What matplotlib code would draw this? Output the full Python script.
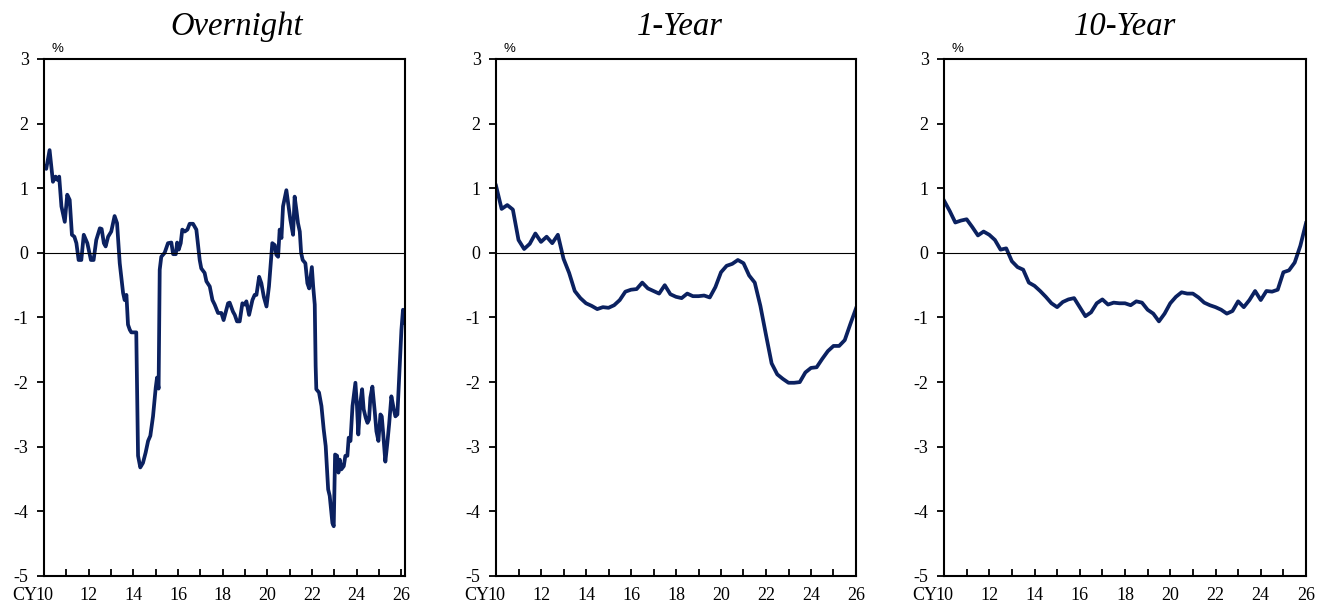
import matplotlib
matplotlib.use("Agg")
import matplotlib.pyplot as plt
from matplotlib.ticker import MultipleLocator

plt.rcParams['font.family'] = ['Liberation Serif', 'DejaVu Serif']
plt.rcParams['axes.unicode_minus'] = False

# Overnight real rate (monthly, irregular sample points)
on_year = [10.0, 10.1, 10.25, 10.4, 10.52, 10.6, 10.68, 10.78, 10.93, 11.04, 11.15,
           11.25, 11.36, 11.45, 11.55, 11.67, 11.78, 11.94, 12.02, 12.1, 12.22, 12.34,
           12.5, 12.58, 12.68, 12.76, 12.87, 13.01, 13.16, 13.27, 13.39, 13.54, 13.61,
           13.69, 13.76, 13.84, 13.91, 14.13, 14.21, 14.31, 14.43, 14.55, 14.66, 14.76,
           14.88, 15.0, 15.06, 15.13, 15.18, 15.25, 15.4, 15.55, 15.7, 15.78, 15.9,
           15.96, 16.03, 16.12, 16.19, 16.3, 16.42, 16.52, 16.67, 16.82, 16.97, 17.04,
           17.19, 17.27, 17.42, 17.54, 17.64, 17.79, 17.94, 18.04, 18.24, 18.31, 18.46,
           18.54, 18.64, 18.76, 18.88, 18.99, 19.06, 19.18, 19.33, 19.43, 19.51, 19.63,
           19.73, 19.84, 19.96, 20.07, 20.22, 20.33, 20.4, 20.48, 20.55, 20.63, 20.7,
           20.85, 20.93, 21.03, 21.15, 21.22, 21.3, 21.37, 21.45, 21.51, 21.58, 21.7,
           21.79, 21.87, 21.93, 21.99, 22.05, 22.12, 22.16, 22.19, 22.31, 22.42, 22.52,
           22.61, 22.72, 22.79, 22.91, 22.97, 23.03, 23.12, 23.18, 23.24, 23.31, 23.42,
           23.49, 23.58, 23.64, 23.72, 23.81, 23.94, 24.01, 24.07, 24.16, 24.24, 24.31,
           24.4, 24.48, 24.55, 24.61, 24.7, 24.81, 24.88, 24.97, 25.06, 25.12, 25.18,
           25.28, 25.37, 25.45, 25.55, 25.66, 25.73, 25.82, 25.93, 26.0, 26.07, 26.16]
on_rate = [1.35, 1.3, 1.59, 1.1, 1.18, 1.13, 1.18, 0.72, 0.48, 0.9, 0.82,
           0.28, 0.25, 0.15, -0.11, -0.11, 0.28, 0.15, 0.02, -0.11, -0.11, 0.2,
           0.38, 0.37, 0.15, 0.1, 0.25, 0.33, 0.57, 0.46, -0.16, -0.62, -0.73,
           -0.65, -1.11, -1.19, -1.23, -1.23, -3.14, -3.32, -3.25, -3.09, -2.91, -2.83,
           -2.53, -2.09, -1.93, -2.1, -0.26, -0.06, 0.0, 0.15, 0.16, -0.02, -0.02,
           0.16, 0.05, 0.15, 0.36, 0.33, 0.36, 0.45, 0.45, 0.36, -0.11, -0.24,
           -0.31, -0.44, -0.52, -0.73, -0.8, -0.93, -0.93, -1.04, -0.78, -0.77, -0.91,
           -0.96, -1.06, -1.06, -0.78, -0.8, -0.75, -0.96, -0.73, -0.65, -0.65, -0.37,
           -0.47, -0.68, -0.83, -0.52, 0.15, 0.12, -0.03, -0.06, 0.36, 0.23, 0.72,
           0.97, 0.77, 0.51, 0.28, 0.87, 0.66, 0.46, 0.33, 0.0, -0.11, -0.16,
           -0.47, -0.55, -0.39, -0.22, -0.52, -0.8, -1.75, -2.11, -2.16, -2.37, -2.73,
           -2.99, -3.66, -3.76, -4.18, -4.23, -3.12, -3.14, -3.4, -3.2, -3.35, -3.3,
           -3.14, -3.14, -2.86, -2.91, -2.37, -2.01, -2.37, -2.81, -2.32, -2.11, -2.42,
           -2.55, -2.63, -2.58, -2.24, -2.07, -2.47, -2.76, -2.91, -2.5, -2.53, -2.78,
           -3.23, -2.94, -2.65, -2.22, -2.42, -2.53, -2.5, -1.7, -1.19, -0.88, -1.08]

# 1-year and 10-year real rates (quarterly, 2010 Q1 .. 2026 Q1)
q_year = [10 + i / 4 for i in range(65)]
y1_rate = [1.04, 0.68, 0.74, 0.67, 0.2, 0.06, 0.14, 0.3, 0.17, 0.25, 0.15, 0.28, -0.09,
           -0.31, -0.59, -0.7, -0.78, -0.82, -0.87, -0.84, -0.85, -0.81, -0.73, -0.6,
           -0.57, -0.56, -0.46, -0.55, -0.59, -0.63, -0.5, -0.64, -0.68, -0.7, -0.63,
           -0.67, -0.67, -0.66, -0.69, -0.53, -0.3, -0.2, -0.17, -0.11, -0.16, -0.35,
           -0.46, -0.82, -1.27, -1.71, -1.88, -1.95, -2.01, -2.01, -2.0, -1.85, -1.78,
           -1.77, -1.64, -1.52, -1.44, -1.44, -1.35, -1.1, -0.86]
y10_rate = [0.81, 0.65, 0.47, 0.5, 0.52, 0.4, 0.27, 0.33, 0.28, 0.2, 0.05, 0.07, -0.13,
            -0.22, -0.26, -0.46, -0.51, -0.59, -0.68, -0.78, -0.84, -0.76, -0.72, -0.7,
            -0.84, -0.98, -0.92, -0.78, -0.72, -0.8, -0.77, -0.78, -0.78, -0.81, -0.75,
            -0.77, -0.88, -0.94, -1.06, -0.94, -0.78, -0.68, -0.61, -0.63, -0.63, -0.69,
            -0.77, -0.81, -0.84, -0.88, -0.94, -0.9, -0.75, -0.84, -0.73, -0.59, -0.73,
            -0.59, -0.6, -0.57, -0.3, -0.27, -0.15, 0.11, 0.46]

titles = ["Overnight", "1-Year", "10-Year"]
x_labels = ["10", "12", "14", "16", "18", "20", "22", "24", "26"]
line_color = "#0b2160"

fig = plt.figure(figsize=(13.17, 6.06), dpi=100)
# left edge (px), width (px), x data, y data, right x limit, title centre (axes fraction)
panels = [
    (44, 361, on_year, on_rate, 26.16, 0.535),
    (496, 360, q_year, y1_rate, 26.0, 0.51),
    (944, 362, q_year, y10_rate, 26.0, 0.5),
]

for (left, width, xs, ys, xmax, tx), title in zip(panels, titles):
    ax = fig.add_axes([left / 1317, 30 / 606, width / 1317, 517 / 606])
    ax.plot(xs, ys, color=line_color, lw=2.7, solid_joinstyle='round')
    ax.axhline(0, color='black', lw=0.8)
    ax.set_xlim(10, xmax)
    ax.set_ylim(-5, 3)
    ax.yaxis.set_major_locator(MultipleLocator(1))
    ax.set_xticks(range(10, 27, 2))
    ax.set_xticklabels(x_labels)
    ax.xaxis.set_minor_locator(MultipleLocator(1))
    ax.tick_params(axis='x', which='both', direction='in', length=5, width=1.3,
                   labelsize=13, pad=8)
    ax.tick_params(axis='y', direction='out', length=5, width=1.3, labelsize=13, pad=6)
    for s in ax.spines.values():
        s.set_linewidth(1.5)
    ax.set_title(title, fontsize=23.5, style='italic', x=tx, pad=17)
    ax.text(0.02, 1.008, "%", transform=ax.transAxes, fontsize=9.5,
            family=['Liberation Sans', 'DejaVu Sans'], ha='left', va='bottom')
    ax.text(-0.02, -0.021, "CY", transform=ax.transAxes, fontsize=13,
            ha='right', va='top')

fig.savefig("out.png", dpi=100)
